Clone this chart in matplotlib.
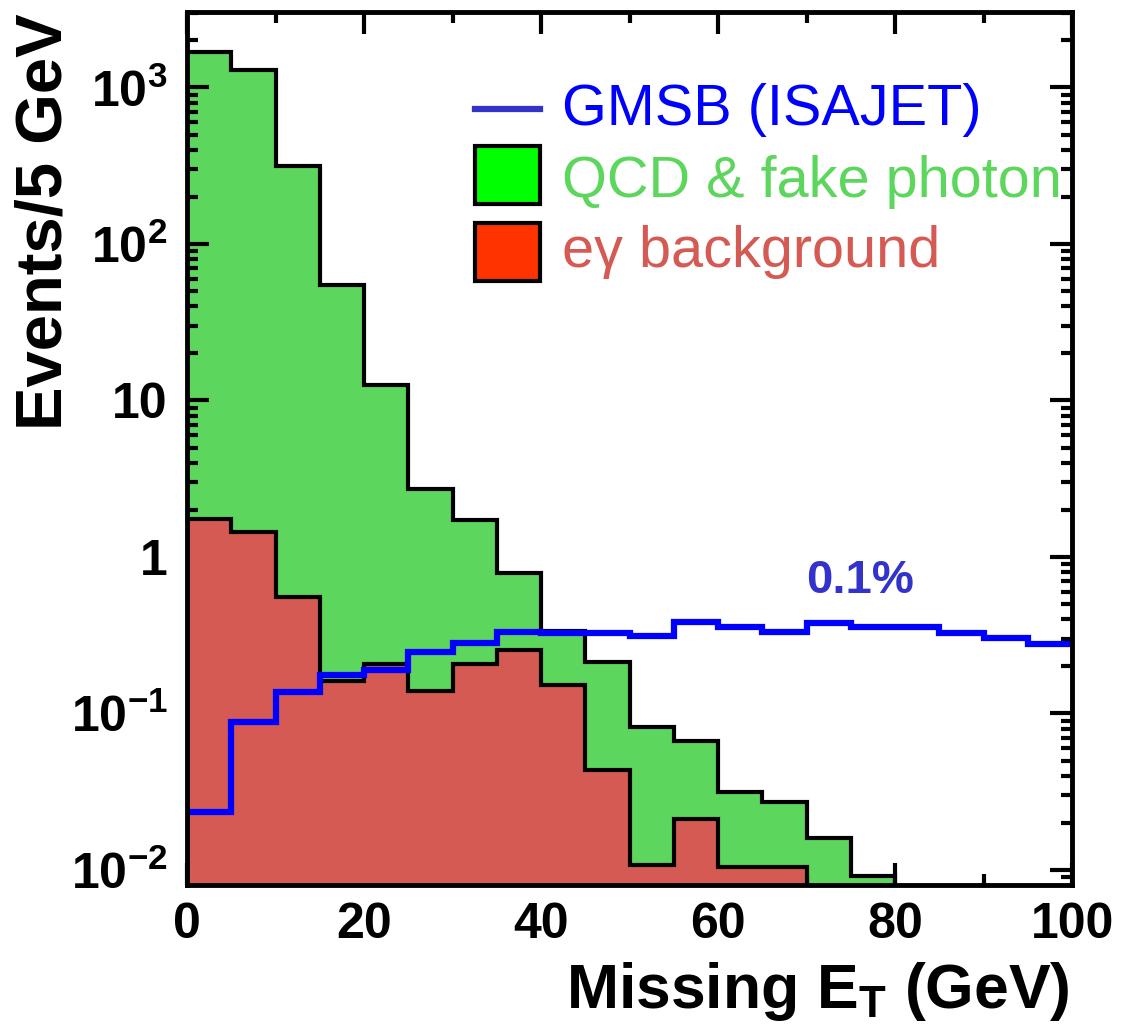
#!/usr/bin/env python3

import numpy as np
import matplotlib
matplotlib.use("Agg")
import matplotlib.pyplot as plt
from matplotlib.ticker import FixedLocator, LogLocator, NullFormatter
from matplotlib.patches import Rectangle
from matplotlib.lines import Line2D

# Missing ET bins, 5 GeV wide
qcd_edges = np.arange(0, 85, 5)      # 0..80
qcd_vals = [1690, 1290, 315, 55, 12.6, 2.7, 1.72, 0.79,
            0.335, 0.212, 0.082, 0.067, 0.0316, 0.0273, 0.016, 0.0092]

eg_edges = np.arange(0, 75, 5)       # 0..70
eg_vals = [1.74, 1.44, 0.552, 0.161, 0.206, 0.14, 0.206, 0.256,
           0.152, 0.0435, 0.0107, 0.0212, 0.0104, 0.0104]

gmsb_edges = np.arange(0, 105, 5)    # 0..100
gmsb_vals = [0.0236, 0.0887, 0.1366, 0.176, 0.191, 0.248, 0.281, 0.333,
             0.325, 0.325, 0.314, 0.386, 0.359, 0.333, 0.377, 0.359,
             0.359, 0.325, 0.302, 0.278]

ytick_vals = [1e-2, 1e-1, 1, 10, 1e2, 1e3]
ytick_labels = [r'$10^{-2}$', r'$10^{-1}$', '1', '10', r'$10^{2}$', r'$10^{3}$']
xtick_vals = [0, 20, 40, 60, 80, 100]

legend_labels = ['GMSB (ISAJET)', 'QCD & fake photon', 'e\u03b3 background']

plt.rcParams['font.family'] = ['Liberation Sans', 'DejaVu Sans']
plt.rcParams['mathtext.fontset'] = 'custom'
plt.rcParams['mathtext.rm'] = 'Liberation Sans:bold'
plt.rcParams['mathtext.it'] = 'Liberation Sans:bold'
plt.rcParams['mathtext.bf'] = 'Liberation Sans:bold'

green = '#5cd65c'
red = '#d55a53'

fig = plt.figure(figsize=(11.31, 10.30), dpi=100)
ax = fig.add_axes([187/1131, 1 - 885/1030, 885/1131, 873/1030])

base = 1e-4
ax.stairs(qcd_vals, qcd_edges, baseline=base, fill=True, color=green, zorder=1)
ax.stairs(qcd_vals, qcd_edges, baseline=base, fill=False, color='black', lw=3, zorder=2)
ax.stairs(eg_vals, eg_edges, baseline=base, fill=True, color=red, zorder=3)
ax.stairs(eg_vals, eg_edges, baseline=base, fill=False, color='black', lw=3, zorder=4)
ax.stairs(gmsb_vals, gmsb_edges, baseline=None, color='#0000ff', lw=4.5, zorder=5)

ax.set_yscale('log')
ax.set_xlim(0, 100)
ax.set_ylim(0.00802, 3035)

ax.xaxis.set_major_locator(FixedLocator(xtick_vals))
ax.xaxis.set_minor_locator(FixedLocator([10, 30, 50, 70, 90]))
ax.set_xticklabels([str(v) for v in xtick_vals], fontsize=36, fontweight='bold')
ax.yaxis.set_major_locator(FixedLocator(ytick_vals))
ax.yaxis.set_minor_locator(LogLocator(base=10, subs=np.arange(2, 10)))
ax.yaxis.set_minor_formatter(NullFormatter())
ax.set_yticklabels(ytick_labels, fontsize=36, fontweight='bold')

ax.tick_params(which='both', direction='in', top=True, right=True, width=3)
ax.tick_params(which='major', length=16)
ax.tick_params(which='minor', length=8)
ax.tick_params(axis='x', pad=12)
ax.tick_params(axis='y', pad=14)
for s in ax.spines.values():
    s.set_linewidth(3.5)
    s.set_zorder(10)

fig.text(45/1131, 1 - 222/1030, 'Events/5 GeV', rotation=90, fontsize=47,
         fontweight='bold', ha='center', va='center')
fig.text(1070/1131, 1 - 1008/1030, r'Missing E$_{\mathrm{T}}$ (GeV)', fontsize=45,
         fontweight='bold', ha='right', va='baseline')

# legend drawn by hand in axes coordinates
ax.add_line(Line2D([0.325, 0.399], [0.889, 0.889], transform=ax.transAxes,
                   color='#3333cc', lw=4.5, zorder=12))
ax.add_patch(Rectangle((0.325, 0.780), 0.074, 0.066, transform=ax.transAxes,
                       facecolor='#00ff00', edgecolor='black', lw=3, zorder=12))
ax.add_patch(Rectangle((0.325, 0.692), 0.074, 0.066, transform=ax.transAxes,
                       facecolor='#ff3300', edgecolor='black', lw=3, zorder=12))
ax.text(0.424, 0.871, legend_labels[0], transform=ax.transAxes, fontsize=41.5,
        color='#0000ff', va='baseline', zorder=12)
ax.text(0.424, 0.788, legend_labels[1], transform=ax.transAxes, fontsize=41.5,
        color=green, va='baseline', zorder=12)
ax.text(0.424, 0.708, legend_labels[2], transform=ax.transAxes, fontsize=41.5,
        color=red, va='baseline', zorder=12)

ax.text(0.760, 0.334, '0.1%', transform=ax.transAxes, fontsize=34,
        fontweight='bold', color='#3333cc', ha='center', va='baseline')

fig.savefig('out.png', dpi=100)
